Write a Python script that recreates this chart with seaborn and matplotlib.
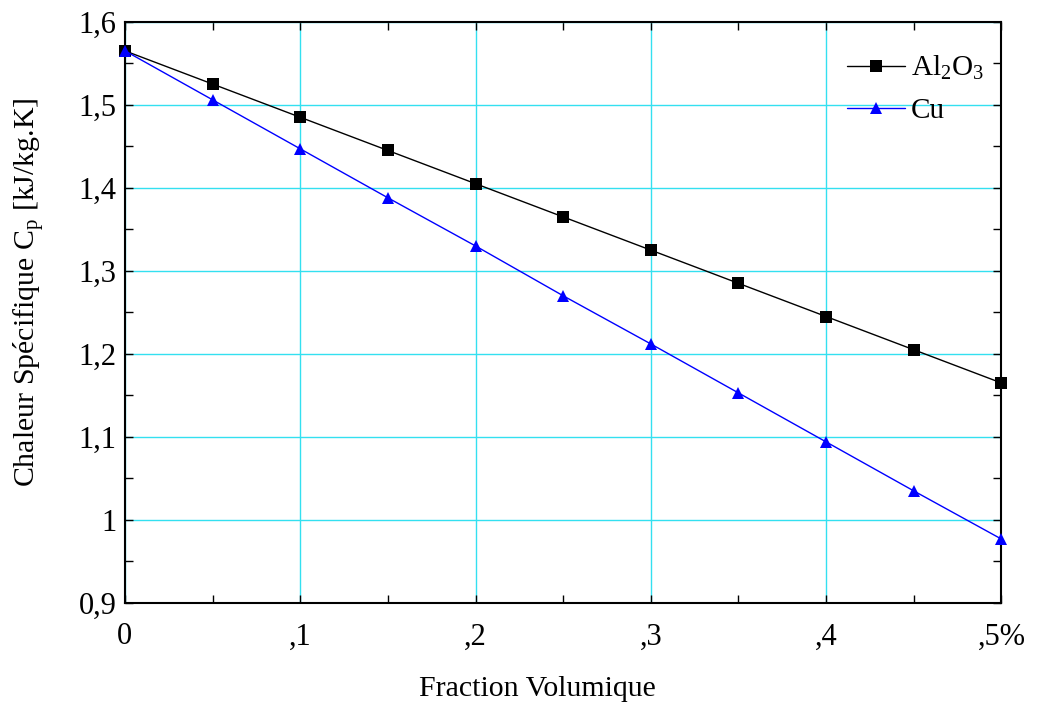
import numpy as np
import pandas as pd
import seaborn as sns
import matplotlib.pyplot as plt
from matplotlib.ticker import MultipleLocator

# values
fraction = [0.0, 0.05, 0.10, 0.15, 0.20, 0.25, 0.30, 0.35, 0.40, 0.45, 0.50]
cp_al2o3 = [1.565, 1.525, 1.485, 1.445, 1.405, 1.365, 1.325, 1.285, 1.245, 1.205, 1.165]
cp_cu = [1.565, 1.506, 1.447, 1.388, 1.330, 1.270, 1.212, 1.153, 1.094, 1.035, 0.977]

x_ticks = [0.0, 0.1, 0.2, 0.3, 0.4, 0.5]
x_ticklabels = ["0", ",1", ",2", ",3", ",4", ",5%"]
y_ticks = [0.9, 1.0, 1.1, 1.2, 1.3, 1.4, 1.5, 1.6]
y_ticklabels = ["0,9", "1", "1,1", "1,2", "1,3", "1,4", "1,5", "1,6"]

df = pd.concat([
    pd.DataFrame({"fraction": fraction, "cp": cp_al2o3, "fluide": "Al$_2$O$_3$"}),
    pd.DataFrame({"fraction": fraction, "cp": cp_cu, "fluide": "Cu"}),
])

sns.set_style("ticks")
plt.rcParams["font.family"] = ["Liberation Serif", "DejaVu Serif"]
plt.rcParams["mathtext.fontset"] = "custom"
plt.rcParams["mathtext.rm"] = "Liberation Serif"
plt.rcParams["mathtext.it"] = "Liberation Serif"
plt.rcParams["text.color"] = "black"
plt.rcParams["axes.labelcolor"] = "black"
plt.rcParams["xtick.color"] = "black"
plt.rcParams["ytick.color"] = "black"
plt.rcParams["axes.edgecolor"] = "black"

fig, ax = plt.subplots(figsize=(10.41, 7.02), dpi=100)

sns.lineplot(
    data=df,
    x="fraction",
    y="cp",
    hue="fluide",
    style="fluide",
    palette=["black", "blue"],
    markers=["s", "^"],
    dashes=False,
    markersize=8,
    markeredgewidth=0,
    linewidth=1,
    ax=ax,
    zorder=3,
    clip_on=False,
)

ax.set_xlim(0, 0.5)
ax.set_ylim(0.9, 1.6)
ax.set_xticks(x_ticks)
ax.set_xticklabels(x_ticklabels)
ax.set_yticks(y_ticks)
ax.set_yticklabels(y_ticklabels)
ax.xaxis.set_minor_locator(MultipleLocator(0.05))
ax.yaxis.set_minor_locator(MultipleLocator(0.05))
ax.tick_params(which="both", direction="in", top=True, right=True, labelsize=22)
ax.tick_params(which="major", length=6, width=1)
ax.tick_params(which="minor", length=6, width=1)
ax.tick_params(axis="x", pad=14)
ax.tick_params(axis="y", pad=6)
ax.grid(True, which="major", color="#33e0f0", linewidth=1)
for s in ax.spines.values():
    s.set_linewidth(1.5)
    s.set_visible(True)

ax.set_xlabel("Fraction Volumique", fontsize=21.5)
ax.set_ylabel("Chaleur Spécifique C$_\\mathrm{p}$ [kJ/kg.K]", fontsize=21.5)
ax.xaxis.set_label_coords(0.47, -0.125)
ax.yaxis.set_label_coords(-0.089, 0.535)

ax.legend(
    title=None,
    loc="upper right",
    frameon=False,
    fontsize=21,
    handlelength=2.0,
    labelspacing=0.55,
    handletextpad=0.2,
    borderaxespad=0.2,
    bbox_to_anchor=(1.0, 0.975),
)

plt.subplots_adjust(left=0.12, right=0.962, top=0.969, bottom=0.141)
fig.savefig("out.png", dpi=100)
